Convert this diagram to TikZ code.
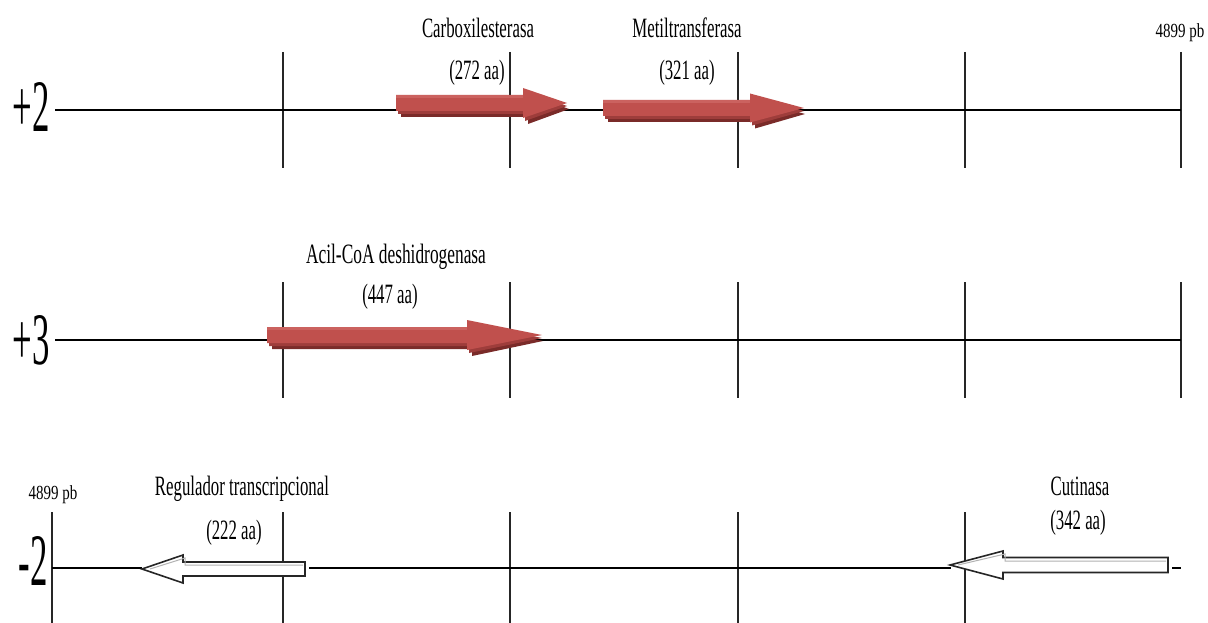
\documentclass[tikz,border=0pt]{standalone}
\usepackage{fontspec}
\usepackage{graphicx}
\setmainfont{Liberation Serif}
\newcommand{\cnd}[2][0.6]{\scalebox{#1}[1]{#2}}
\definecolor{arrred}{HTML}{C0504D}
\definecolor{arrdark}{HTML}{7A2B29}
\definecolor{arrmid}{HTML}{9E3D3B}
\definecolor{arrlight}{HTML}{CB625F}
\tikzset{
  axis/.style={line width=1.8pt, black},
  tick/.style={line width=1.1pt, black!85},
  lbl/.style={inner sep=0pt, font=\fontsize{28}{30}\selectfont},
  small/.style={inner sep=0pt, font=\fontsize{20}{22}\selectfont},
  frame/.style={inner sep=0pt, font=\fontsize{74}{74}\selectfont, anchor=base},
  redshadow/.style={fill=arrdark, draw=none},
  redmid/.style={fill=arrmid, draw=none},
  redbody/.style={fill=arrred, draw=none},
  hollow/.style={fill=white, draw=black!85, line width=1.6pt, line join=miter},
  hollowin/.style={draw=black!30, line width=1pt}
}
% gene arrow outline: #1 start x, #2 head x, #3 tip x, #4 centre y, #5 shaft half, #6 head half
\newcommand{\genepath}[6]{(#1,#4-#5) -- (#2,#4-#5) -- (#2,#4-#6) -- (#3,#4) -- (#2,#4+#6) -- (#2,#4+#5) -- (#1,#4+#5) -- cycle}
\begin{document}
\begin{tikzpicture}[x=1pt,y=-1pt]
\useasboundingbox (0,0) rectangle (1208,623);

% ---------- row +2 ----------
\coordinate (r1a) at (55,110);
\coordinate (r1b) at (1181,110);
\foreach \x [count=\i] in {283,510,738,965,1181}{
  \coordinate (t1a\i) at (\x,52);
  \coordinate (t1b\i) at (\x,168);
  \draw[tick] (t1a\i) -- (t1b\i);
}
\draw[axis] (r1a) -- (r1b);
\node[frame] (f1) at (31,132) {\cnd[0.47]{+2}};

% Carboxilesterasa arrow
\fill[redshadow] [shift={(5,6)}] \genepath{396}{523}{564}{103}{8}{15};
\fill[redmid] [shift={(2,3)}] \genepath{396}{523}{565}{103}{8}{15};
\fill[redbody] \genepath{396}{523}{567}{103}{8}{15};
\fill[arrlight] (396,95) rectangle (523,98);
% Metiltransferasa arrow
\fill[redshadow] [shift={(5,6)}] \genepath{603}{750}{800}{108}{8}{14.5};
\fill[redmid] [shift={(2,3)}] \genepath{603}{750}{802}{108}{8}{14.5};
\fill[redbody] \genepath{603}{750}{804}{108}{8}{14.5};
\fill[arrlight] (603,100) rectangle (750,103);

\node[lbl] (carb) at (478,28) {\cnd{Carboxilesterasa}};
\node[lbl] (carbaa) at (477,73) {\cnd{(272 aa)}};
\node[lbl] (meti) at (687,28) {\cnd{Metiltransferasa}};
\node[lbl] (metiaa) at (687,73) {\cnd{(321 aa)}};
\node[small] (pb1) at (1180,33) {\cnd[0.75]{4899 pb}};

% ---------- row +3 ----------
\coordinate (r2a) at (55,340);
\coordinate (r2b) at (1181,340);
\foreach \x [count=\i] in {283,510,738,965,1181}{
  \coordinate (t2a\i) at (\x,282);
  \coordinate (t2b\i) at (\x,398);
  \draw[tick] (t2a\i) -- (t2b\i);
}
\draw[axis] (r2a) -- (r2b);
\node[frame] (f2) at (31,364) {\cnd[0.47]{+3}};

% Acil-CoA arrow
\fill[redshadow] [shift={(5,6)}] \genepath{267}{467}{538}{335}{8}{15};
\fill[redmid] [shift={(2,3)}] \genepath{267}{467}{540}{335}{8}{15};
\fill[redbody] \genepath{267}{467}{542}{335}{8}{15};
\fill[arrlight] (267,327) rectangle (467,330);

\node[lbl] (acil) at (396,257) {\cnd[0.62]{Acil-CoA deshidrogenasa}};
\node[lbl] (acilaa) at (390,297) {\cnd{(447 aa)}};

% ---------- row -2 ----------
\coordinate (r3a) at (52,568);
\coordinate (r3b) at (142,568);
\coordinate (r3c) at (309,568);
\coordinate (r3d) at (951,568);
\coordinate (r3e) at (1172,568);
\coordinate (r3f) at (1181,568);
\foreach \x [count=\i] in {52,283,510,738,965}{
  \coordinate (t3a\i) at (\x,512);
  \coordinate (t3b\i) at (\x,623);
  \draw[tick] (t3a\i) -- (t3b\i);
}
\draw[axis] (r3a) -- (r3b);
\draw[axis] (r3c) -- (r3d);
\draw[axis] (r3e) -- (r3f);
\node[frame] (f3) at (33,585) {\cnd[0.47]{-2}};
\node[small] (pb2) at (53,495) {\cnd[0.75]{4899 pb}};

% Regulador transcripcional arrow (left)
\path[hollow] \genepath{305}{183}{142}{569}{7}{14};
\draw[hollowin] (303,565) -- (185,565) -- (185,558) -- (150,569);
% Cutinasa arrow (left)
\path[hollow] \genepath{1168}{1003}{950}{565}{7.5}{14};
\draw[hollowin] (1166,561) -- (1005,561) -- (1005,554) -- (958,565);

\node[lbl] (regu) at (242,489) {\cnd{Regulador transcripcional}};
\node[lbl] (reguaa) at (234,533) {\cnd{(222 aa)}};
\node[lbl] (cuti) at (1080,486) {\cnd{Cutinasa}};
\node[lbl] (cutiaa) at (1078,523) {\cnd{(342 aa)}};
\end{tikzpicture}
\end{document}
